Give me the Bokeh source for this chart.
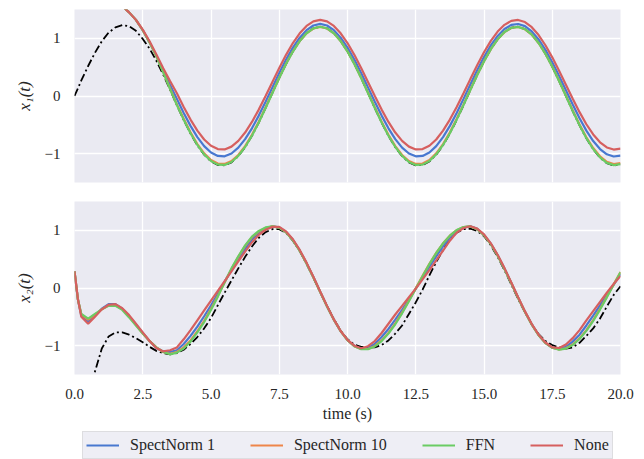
from bokeh.plotting import figure
from bokeh.models import Range1d, FixedTicker, Legend, LegendItem
from bokeh.layouts import column
from bokeh.embed import file_html
from bokeh.resources import INLINE

# ---------------- data ----------------
time_s = [0.0, 0.125, 0.25, 0.5, 0.75, 1.0, 1.25, 1.5, 1.75, 2.0, 2.25, 2.5, 2.75, 3.0, 3.25, 3.5,
          3.75, 4.0, 4.25, 4.5, 4.75, 5.0, 5.25, 5.5, 5.75, 6.0, 6.25, 6.5, 6.75, 7.0, 7.25, 7.5,
          7.75, 8.0, 8.25, 8.5, 8.75, 9.0, 9.25, 9.5, 9.75, 10.0, 10.25, 10.5, 10.75, 11.0, 11.25,
          11.5, 11.75, 12.0, 12.25, 12.5, 12.75, 13.0, 13.25, 13.5, 13.75, 14.0, 14.25, 14.5, 14.75,
          15.0, 15.25, 15.5, 15.75, 16.0, 16.25, 16.5, 16.75, 17.0, 17.25, 17.5, 17.75, 18.0, 18.25,
          18.5, 18.75, 19.0, 19.25, 19.5, 19.75, 20.0]

# x1(t)
x1_true = [0.00, 0.13, 0.27, 0.52, 0.75, 0.95, 1.10, 1.19, 1.23, 1.21, 1.13, 0.99, 0.82, 0.61, 0.37, 0.11,
           -0.160, -0.415, -0.650, -0.855, -1.018, -1.134, -1.197, -1.202, -1.150, -1.044, -0.888, -0.690,
           -0.460, -0.207, 0.055, 0.314, 0.557, 0.774, 0.955, 1.090, 1.174, 1.202, 1.174, 1.090, 0.955, 0.774,
           0.557, 0.314, 0.055, -0.207, -0.460, -0.690, -0.888, -1.044, -1.150, -1.202, -1.197, -1.134, -1.018,
           -0.855, -0.650, -0.415, -0.160, 0.104, 0.362, 0.602, 0.813, 0.985, 1.111, 1.184, 1.201, 1.161, 1.066,
           0.921, 0.733, 0.509, 0.261, 0.000, -0.262, -0.510, -0.735, -0.924, -1.069, -1.165, -1.205, -1.188]
x1_sn1 = [2.05, 2.06, 2.05, 1.98, 1.90, 1.82, 1.74, 1.65, 1.56, 1.45, 1.32, 1.14, 0.93, 0.70, 0.44, 0.19,
          -0.050, -0.293, -0.518, -0.713, -0.870, -0.981, -1.040, -1.046, -0.997, -0.896, -0.748, -0.560,
          -0.340, -0.100, 0.150, 0.398, 0.631, 0.839, 1.012, 1.142, 1.223, 1.250, 1.223, 1.142, 1.012, 0.839,
          0.631, 0.398, 0.150, -0.100, -0.340, -0.560, -0.748, -0.896, -0.997, -1.046, -1.040, -0.981, -0.870,
          -0.713, -0.518, -0.293, -0.050, 0.200, 0.446, 0.675, 0.877, 1.042, 1.162, 1.233, 1.249, 1.211, 1.120,
          0.981, 0.800, 0.586, 0.349, 0.100, -0.149, -0.386, -0.600, -0.781, -0.920, -1.011, -1.049, -1.033]
x1_sn10 = [2.05, 2.06, 2.05, 1.98, 1.90, 1.82, 1.74, 1.65, 1.56, 1.45, 1.32, 1.14, 0.93, 0.69, 0.42, 0.13,
           -0.145, -0.395, -0.630, -0.833, -0.995, -1.111, -1.172, -1.178, -1.127, -1.023, -0.868, -0.673,
           -0.445, -0.196, 0.062, 0.318, 0.559, 0.775, 0.953, 1.088, 1.170, 1.198, 1.170, 1.088, 0.953, 0.775,
           0.559, 0.318, 0.062, -0.196, -0.445, -0.673, -0.868, -1.023, -1.127, -1.178, -1.172, -1.111, -0.995,
           -0.833, -0.630, -0.395, -0.145, 0.114, 0.368, 0.604, 0.813, 0.983, 1.107, 1.179, 1.196, 1.157, 1.063,
           0.919, 0.733, 0.510, 0.267, 0.010, -0.248, -0.493, -0.715, -0.902, -1.045, -1.140, -1.180, -1.163]
x1_ffn = [2.05, 2.06, 2.05, 1.98, 1.90, 1.82, 1.74, 1.65, 1.56, 1.45, 1.32, 1.14, 0.93, 0.69, 0.41, 0.12,
          -0.157, -0.410, -0.645, -0.849, -1.012, -1.128, -1.190, -1.195, -1.144, -1.039, -0.885, -0.688,
          -0.459, -0.208, 0.052, 0.311, 0.554, 0.771, 0.952, 1.088, 1.172, 1.200, 1.172, 1.088, 0.952, 0.771,
          0.554, 0.311, 0.052, -0.208, -0.459, -0.688, -0.885, -1.039, -1.144, -1.195, -1.190, -1.128, -1.012,
          -0.849, -0.645, -0.410, -0.157, 0.105, 0.361, 0.600, 0.811, 0.983, 1.109, 1.182, 1.199, 1.159, 1.064,
          0.919, 0.731, 0.507, 0.260, 0.000, -0.260, -0.507, -0.731, -0.919, -1.064, -1.159, -1.199, -1.182]
x1_none = [2.05, 2.06, 2.05, 1.98, 1.90, 1.82, 1.74, 1.65, 1.56, 1.45, 1.32, 1.15, 0.95, 0.72, 0.48, 0.26,
           0.048, -0.190, -0.409, -0.600, -0.754, -0.862, -0.920, -0.926, -0.878, -0.779, -0.634, -0.450,
           -0.236, 0.000, 0.244, 0.486, 0.714, 0.918, 1.088, 1.215, 1.293, 1.320, 1.293, 1.215, 1.088, 0.918,
           0.714, 0.486, 0.244, 0.000, -0.236, -0.450, -0.634, -0.779, -0.878, -0.926, -0.920, -0.862, -0.754,
           -0.600, -0.409, -0.190, 0.048, 0.293, 0.533, 0.758, 0.955, 1.117, 1.234, 1.303, 1.319, 1.282, 1.193,
           1.057, 0.880, 0.670, 0.438, 0.195, -0.048, -0.280, -0.490, -0.667, -0.803, -0.892, -0.929, -0.913]

# x2(t)
x2_true = [-3.00, -2.75, -2.45, -1.95, -1.45, -1.05, -0.84, -0.77, -0.77, -0.81, -0.87, -0.94, -1.02, -1.09, -1.13, -1.15,
           -1.13, -1.07, -0.97, -0.85, -0.70, -0.52, -0.30, -0.08, 0.13, 0.34, 0.54, 0.72, 0.87, 0.97, 1.02, 1.02,
           0.955, 0.82, 0.64, 0.42, 0.18, -0.07, -0.31, -0.54, -0.74, -0.89, -0.98, -1.02, -1.03, -1.03, -0.99,
           -0.91, -0.79, -0.65, -0.45, -0.25, -0.03, 0.22, 0.45, 0.66, 0.84, 0.96, 1.02, 1.03, 0.99, 0.90, 0.74,
           0.54, 0.31, 0.06, -0.19, -0.42, -0.63, -0.80, -0.92, -0.99, -1.03, -1.05, -1.03, -0.95, -0.83, -0.70,
           -0.53, -0.32, -0.12, 0.03]
x2_sn1 = [0.29, -0.20, -0.48, -0.59, -0.48, -0.36, -0.28, -0.28, -0.36, -0.49, -0.63, -0.78, -0.92, -1.04, -1.10, -1.11,
          -1.08, -0.97, -0.83, -0.67, -0.49, -0.30, -0.10, 0.11, 0.31, 0.50, 0.68, 0.84, 0.96, 1.03, 1.07, 1.05,
          0.97, 0.835, 0.65, 0.43, 0.19, -0.065, -0.315, -0.548, -0.747, -0.903, -1.005, -1.055, -1.04, -0.97,
          -0.85, -0.71, -0.55, -0.38, -0.20, -0.01, 0.18, 0.37, 0.55, 0.72, 0.87, 0.99, 1.05, 1.07, 1.025, 0.92,
          0.767, 0.568, 0.338, 0.088, -0.166, -0.41, -0.63, -0.814, -0.95, -1.033, -1.06, -1.02, -0.93, -0.81,
          -0.65, -0.48, -0.30, -0.12, 0.06, 0.24]
x2_sn10 = [0.29, -0.20, -0.46, -0.55, -0.46, -0.37, -0.30, -0.30, -0.37, -0.50, -0.64, -0.79, -0.92, -1.03, -1.11, -1.14,
           -1.11, -1.03, -0.91, -0.75, -0.57, -0.36, -0.14, 0.10, 0.33, 0.54, 0.73, 0.88, 0.98, 1.04, 1.07, 1.047,
           0.966, 0.830, 0.647, 0.427, 0.184, -0.069, -0.318, -0.549, -0.748, -0.905, -1.008, -1.058, -1.058,
           -1.005, -0.910, -0.778, -0.614, -0.424, -0.218, -0.003, 0.212, 0.420, 0.610, 0.775, 0.907, 1.002,
           1.056, 1.068, 1.021, 0.917, 0.762, 0.563, 0.332, 0.083, -0.170, -0.413, -0.633, -0.817, -0.953,
           -1.035, -1.067, -1.046, -0.980, -0.873, -0.730, -0.556, -0.360, -0.150, 0.066, 0.278]
x2_ffn = [0.29, -0.20, -0.45, -0.53, -0.45, -0.37, -0.31, -0.31, -0.38, -0.51, -0.65, -0.79, -0.92, -1.03, -1.11, -1.15,
          -1.12, -1.05, -0.93, -0.77, -0.59, -0.38, -0.15, 0.10, 0.34, 0.55, 0.74, 0.89, 0.99, 1.05, 1.07, 1.047,
          0.965, 0.828, 0.645, 0.425, 0.182, -0.071, -0.320, -0.550, -0.749, -0.906, -1.010, -1.060, -1.062,
          -1.013, -0.921, -0.791, -0.629, -0.439, -0.231, -0.013, 0.205, 0.415, 0.607, 0.774, 0.908, 1.004,
          1.058, 1.068, 1.021, 0.916, 0.760, 0.561, 0.330, 0.081, -0.172, -0.415, -0.635, -0.818, -0.955,
          -1.036, -1.070, -1.051, -0.988, -0.884, -0.743, -0.570, -0.374, -0.162, 0.057, 0.273]
x2_none = [0.29, -0.19, -0.50, -0.62, -0.50, -0.37, -0.29, -0.28, -0.35, -0.47, -0.62, -0.77, -0.92, -1.04, -1.10, -1.08,
           -1.03, -0.89, -0.73, -0.56, -0.39, -0.22, -0.05, 0.12, 0.29, 0.46, 0.63, 0.79, 0.92, 1.01, 1.06, 1.06,
           0.98, 0.845, 0.66, 0.44, 0.195, -0.06, -0.31, -0.545, -0.745, -0.90, -1.00, -1.045, -1.01, -0.92,
           -0.78, -0.62, -0.46, -0.31, -0.16, -0.01, 0.15, 0.31, 0.48, 0.65, 0.82, 0.96, 1.04, 1.07, 1.03, 0.93,
           0.775, 0.575, 0.345, 0.095, -0.16, -0.405, -0.625, -0.81, -0.945, -1.03, -1.04, -0.98, -0.87, -0.73,
           -0.56, -0.40, -0.24, -0.08, 0.07, 0.21]

series_names = ["SpectNorm 1", "SpectNorm 10", "FFN", "None"]
series_colors = ["#4878D0", "#EE854A", "#6ACC64", "#D65F5F"]

x_ticks = [0.0, 2.5, 5.0, 7.5, 10.0, 12.5, 15.0, 17.5, 20.0]
x_tick_labels = ["0.0", "2.5", "5.0", "7.5", "10.0", "12.5", "15.0", "17.5", "20.0"]
y_ticks = [-1, 0, 1]
y_tick_labels = ["\u22121", "0", "1"]

# ---------------- styling ----------------
FONT = "Liberation Serif"
TXT = "#262626"
W = 644


def make_fig(height, top, bottom, ylabel, show_x):
    p = figure(width=W, height=height, x_range=Range1d(0, 20), y_range=Range1d(-1.5, 1.5),
               output_backend="svg", toolbar_location=None,
               min_border_left=74, min_border_right=24, min_border_top=top, min_border_bottom=bottom)
    p.background_fill_color = "#EAEAF2"
    p.border_fill_color = "white"
    p.outline_line_color = None
    p.xgrid.ticker = FixedTicker(ticks=x_ticks)
    p.ygrid.ticker = FixedTicker(ticks=y_ticks)
    p.grid.grid_line_color = "white"
    p.grid.grid_line_width = 1.3
    for ax in (p.xaxis, p.yaxis):
        ax.axis_line_color = None
        ax.major_tick_line_color = None
        ax.minor_tick_line_color = None
        ax.major_tick_out = 0
        ax.major_tick_in = 0
        ax.minor_tick_out = 0
        ax.minor_tick_in = 0
        ax.major_label_text_font = FONT
        ax.major_label_text_font_size = "15px"
        ax.major_label_text_color = TXT
        ax.axis_label_text_font = FONT
        ax.axis_label_text_font_size = "16px"
        ax.axis_label_text_color = TXT
        ax.axis_label_text_font_style = "normal"
    p.xaxis.ticker = FixedTicker(ticks=x_ticks)
    p.xaxis.major_label_overrides = dict(zip(x_ticks, x_tick_labels))
    p.yaxis.ticker = FixedTicker(ticks=y_ticks)
    p.yaxis.major_label_overrides = dict(zip(y_ticks, y_tick_labels))
    p.yaxis.major_label_standoff = 14
    p.yaxis.axis_label = ylabel
    p.yaxis.axis_label_text_font_style = "italic"
    p.yaxis.axis_label_text_font_size = "17px"
    p.yaxis.axis_label_standoff = 8
    if show_x:
        p.xaxis.major_label_standoff = 14
        p.xaxis.axis_label = "time (s)"
        p.xaxis.axis_label_standoff = 3
    else:
        p.xaxis.visible = False
    return p


p1 = make_fig(192, 9, 10, "x\u2081(t)", False)
p2 = make_fig(237, 9, 55, "x\u2082(t)", True)

for p, true_vals, preds in ((p1, x1_true, [x1_sn1, x1_sn10, x1_ffn, x1_none]),
                            (p2, x2_true, [x2_sn1, x2_sn10, x2_ffn, x2_none])):
    p.line(time_s, true_vals, line_color="black", line_width=1.8, line_dash="8 3 2 3")
    for vals, col in zip(preds, series_colors):
        p.line(time_s, vals, line_color=col, line_width=2.2)

# legend strip below the two panels (its frame is aligned with the panels' frames);
# the legend's line renderers reuse the x2 series but lie outside this strip's y range
p3 = figure(width=W, height=30, x_range=Range1d(0, 20), y_range=Range1d(10, 11),
            x_axis_type=None, y_axis_type=None, output_backend="svg", toolbar_location=None,
            min_border=0)
p3.outline_line_color = None
p3.background_fill_color = "white"
p3.border_fill_color = "white"
legend_lines = [p3.line(time_s, vals, line_color=col, line_width=2.2)
                for vals, col in zip([x2_sn1, x2_sn10, x2_ffn, x2_none], series_colors)]

legend = Legend(items=[LegendItem(label=n, renderers=[r]) for n, r in zip(series_names, legend_lines)],
                orientation="horizontal", location=(8, 0))
legend.label_text_font = FONT
legend.label_text_font_size = "16px"
legend.label_text_color = TXT
legend.glyph_width = 33
legend.glyph_height = 20
legend.label_height = 20
legend.label_standoff = 11
legend.spacing = 35
legend.padding = 3
legend.margin = 0
legend.background_fill_color = "#EAEAF2"
legend.background_fill_alpha = 0.8
legend.border_line_color = "#CCCCCC"
legend.border_line_width = 1
p3.add_layout(legend, "center")

layout = column(p1, p2, p3, spacing=0)
open("out.html", "w").write(file_html(layout, INLINE))
